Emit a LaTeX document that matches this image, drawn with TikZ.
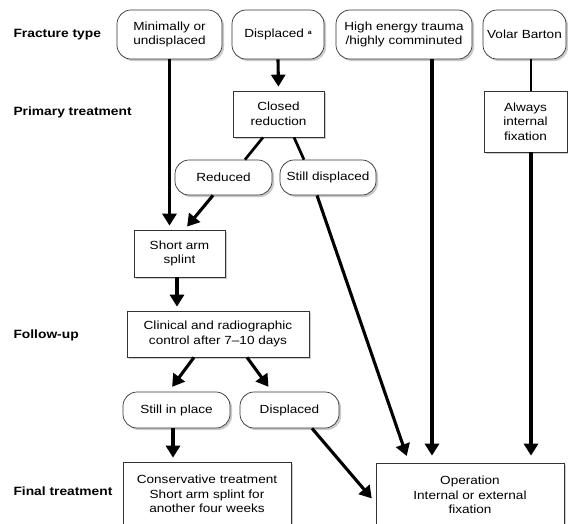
\documentclass[tikz,border=0pt]{standalone}
\usepackage{fontspec}
\setmainfont{Liberation Sans}[FakeStretch=1.15]
\usetikzlibrary{arrows.meta,shadows,calc}

\begin{document}
\begin{tikzpicture}[x=1pt, y=-1pt,
  box/.style={draw=black!80, line width=0.7pt, fill=white, align=center,
              font=\fontsize{11.8}{14.5}\selectfont, inner sep=1pt,
              drop shadow={shadow xshift=2pt, shadow yshift=-2pt,
                           opacity=0.35, fill=black!60}},
  pill/.style={box, rounded corners=14pt},
  stage/.style={font=\fontsize{12}{14}\selectfont\bfseries, anchor=base west},
  flow/.style={line width=3.1pt, -{Triangle[length=12pt,width=14pt]},
               shorten >=4pt},
  link/.style={line width=2.7pt},
]

\useasboundingbox (0,0) rectangle (568,523);
\clip (0,0) rectangle (568,523);

% Stage labels on the left
\node[stage] (lbltype)  at (10,37)  {Fracture type};
\node[stage] (lblprim)  at (10,115) {Primary treatment};
\node[stage] (lblfollow) at (10,338) {Follow-up};
\node[stage] (lblfinal) at (10,495) {Final treatment};

% Fracture types
\node[pill, minimum width=105, minimum height=49] (minimal) at (169.5,34.5)
  {Minimally or\\undisplaced};
\node[pill, minimum width=92, minimum height=49] (displaced) at (278,34.5)
  {Displaced \raisebox{3pt}{\fontsize{6}{6}\selectfont\bfseries a}};
\node[pill, minimum width=136, minimum height=49] (highenergy) at (404,34.5)
  {High energy trauma\\/highly comminuted};
\node[pill, minimum width=83, minimum height=49] (volar) at (524.5,34.5)
  {Volar Barton};

% Primary treatment
\node[box, minimum width=91, minimum height=46] (closed) at (278.5,114)
  {Closed\\reduction};
\node[box, minimum width=83, minimum height=61] (always) at (525.5,121.5)
  {Always\\internal\\fixation};
\node[pill, minimum width=97, minimum height=35] (reduced) at (223.5,177.5)
  {Reduced};
\node[pill, minimum width=96, minimum height=35] (stilldisp) at (328,177.5)
  {Still displaced};
\node[box, minimum width=91, minimum height=47] (splint) at (179.5,253.5)
  {Short arm\\splint};

% Follow-up
\node[box, minimum width=182, minimum height=46] (clinical) at (218,334)
  {Clinical and radiographic\\control after 7--10 days};
\node[pill, minimum width=107, minimum height=36] (inplace) at (176.5,410)
  {Still in place};
\node[pill, minimum width=99, minimum height=36] (displaced2) at (289.5,410)
  {Displaced};

% Final treatment (cut off at the bottom)
\node[box, minimum width=168, minimum height=64] (conservative) at (207,494)
  {Conservative treatment\\Short arm splint for\\another four weeks};
\node[box, minimum width=188, minimum height=64] (operation) at (470,495)
  {Operation\\Internal or external\\fixation};

% Connectors
\draw[flow] (minimal.south) -- (minimal.south |- splint.north);
\draw[flow] (displaced.south) -- (closed.north);
\draw[link] ($(closed.south)+(-15.5,0)$) -- ($(reduced.north)+(21.5,0)$);
\draw[link] ($(closed.south)+(15.5,0)$) -- ($(stilldisp.north)+(-24,0)$);
\draw[flow] ($(reduced.south)+(-10.5,0)$) -- ($(splint.north)+(5,0)$);
\draw[flow, shorten >=7pt] ($(stilldisp.south)+(-11,0)$) -- ($(operation.north)+(-61,0)$);
\draw[flow, shorten >=7pt] ($(highenergy.south)+(28,0)$) -- ($(operation.north)+(-38,0)$);
\draw[link] ($(volar.south)+(6.5,0)$) -- ($(always.north)+(5.5,0)$);
\draw[flow, shorten >=7pt] ($(always.south)+(5.5,0)$) -- ($(operation.north)+(61,0)$);
\draw[flow] ($(splint.south)+(-2.5,0)$) -- ($(clinical.north)+(-41,0)$);
\draw[flow, shorten >=6pt] ($(clinical.south)+(-24,0)$) -- ($(inplace.north)+(-8,0)$);
\draw[flow, shorten >=6pt] ($(clinical.south)+(29,0)$) -- ($(displaced2.north)+(-17.5,0)$);
\draw[flow] ($(inplace.south)+(-3.5,0)$) -- ($(conservative.north)+(-34,0)$);
\draw[flow, shorten >=6pt] ($(displaced2.south)+(22.5,0)$) -- ($(operation.west)+(0,8)$);

\end{tikzpicture}
\end{document}
